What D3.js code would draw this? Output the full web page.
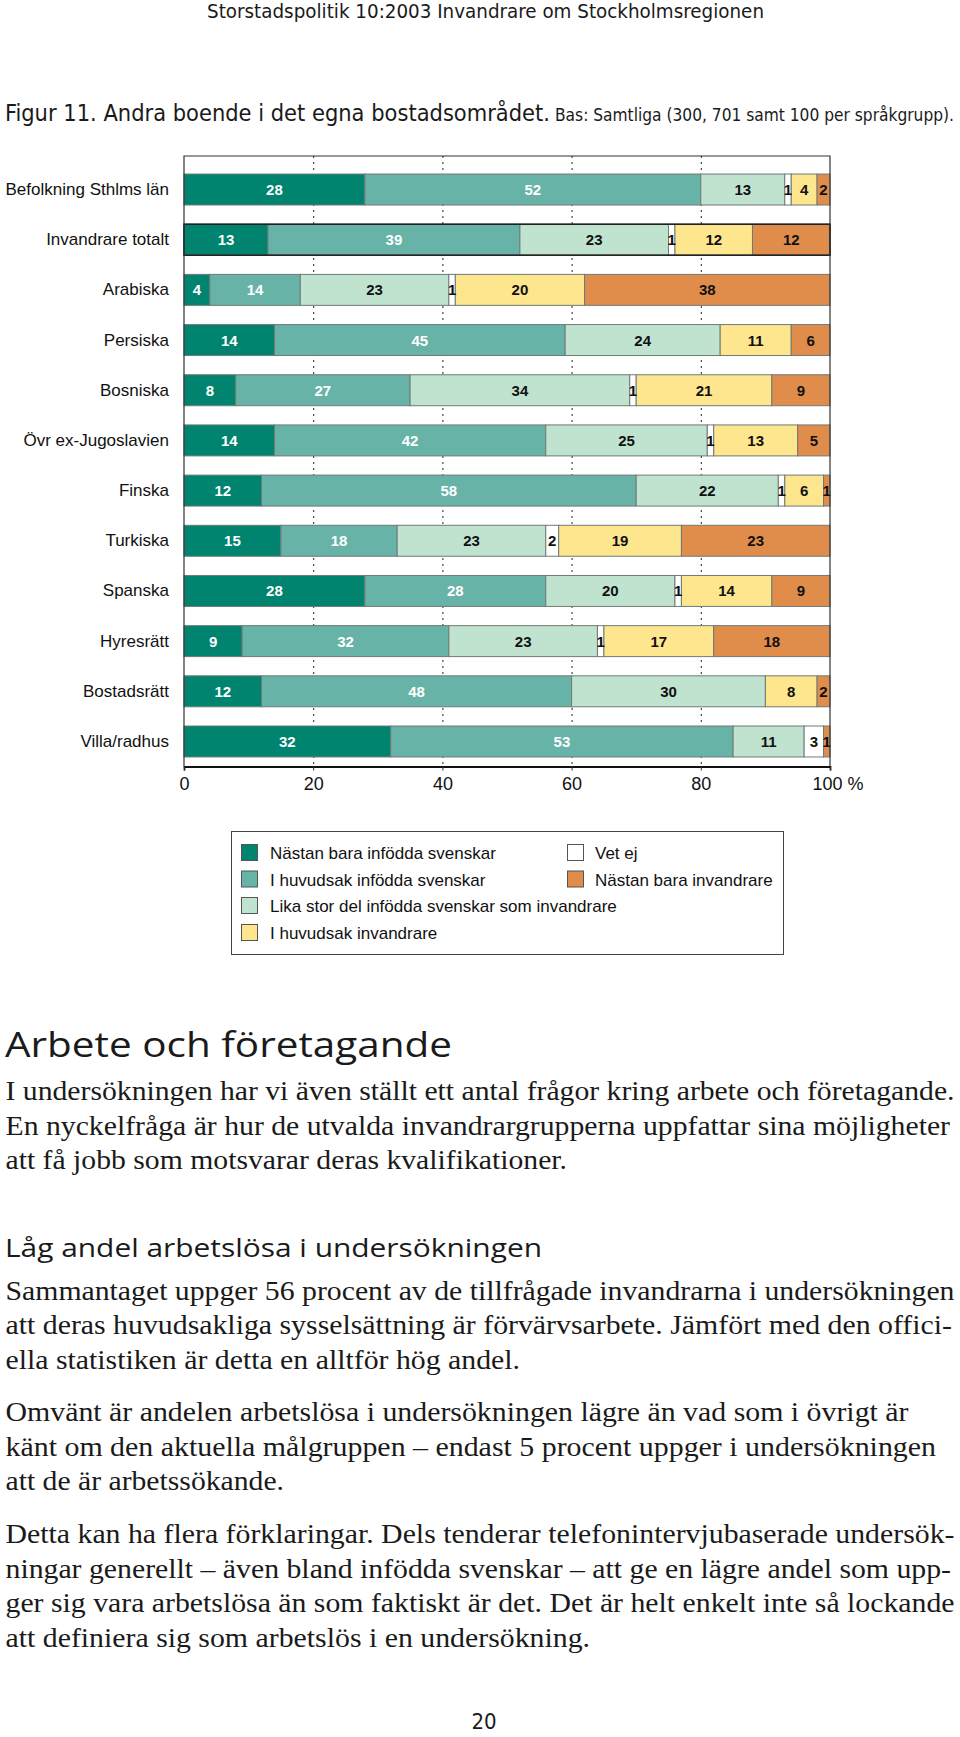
<!DOCTYPE html>
<html><head><meta charset="utf-8">
<script src="https://cdn.jsdelivr.net/npm/d3@7"></script>
<style>
html,body{margin:0;padding:0;background:#fff;}
svg{display:block;}
</style></head>
<body>
<svg id="page" width="960" height="1737"></svg>
<script>
// ---------- DATA ----------
const categories = ["Befolkning Sthlms län","Invandrare totalt","Arabiska","Persiska","Bosniska","Övr ex-Jugoslavien","Finska","Turkiska","Spanska","Hyresrätt","Bostadsrätt","Villa/radhus"];
const seriesNames = ["Nästan bara infödda svenskar","I huvudsak infödda svenskar","Lika stor del infödda svenskar som invandrare","Vet ej","I huvudsak invandrare","Nästan bara invandrare"];
const nastanSvenskar     = [28,13, 4,14, 8,14,12,15,28, 9,12,32];
const huvudsakSvenskar   = [52,39,14,45,27,42,58,18,28,32,48,53];
const likaStor           = [13,23,23,24,34,25,22,23,20,23,30,11];
const vetEj              = [ 1, 1, 1, 0, 1, 1, 1, 2, 1, 1, 0, 3];
const huvudsakInvandrare = [ 4,12,20,11,21,13, 6,19,14,17, 8, 0];
const nastanInvandrare   = [ 2,12,38, 6, 9, 5, 1,23, 9,18, 2, 1];
const xTicks = [0,20,40,60,80,100];
const xTickLabels = ["0","20","40","60","80","100 %"];
const gridValues = [20,40,60,80];
const legendLeft = ["Nästan bara infödda svenskar","I huvudsak infödda svenskar","Lika stor del infödda svenskar som invandrare","I huvudsak invandrare"];
const legendRight = ["Vet ej","Nästan bara invandrare"];

const headerText = "Storstadspolitik 10:2003 Invandrare om Stockholmsregionen";
const figTitle = "Figur 11. Andra boende i det egna bostadsområdet.";
const figBase = "Bas: Samtliga (300, 701 samt 100 per språkgrupp).";
const heading1 = "Arbete och företagande";
const heading2 = "Låg andel arbetslösa i undersökningen";
const para1 = ["I undersökningen har vi även ställt ett antal frågor kring arbete och företagande.",
 "En nyckelfråga är hur de utvalda invandrargrupperna uppfattar sina möjligheter",
 "att få jobb som motsvarar deras kvalifikationer."];
const para2 = ["Sammantaget uppger 56 procent av de tillfrågade invandrarna i undersökningen",
 "att deras huvudsakliga sysselsättning är förvärvsarbete. Jämfört med den offici-",
 "ella statistiken är detta en alltför hög andel."];
const para3 = ["Omvänt är andelen arbetslösa i undersökningen lägre än vad som i övrigt är",
 "känt om den aktuella målgruppen – endast 5 procent uppger i undersökningen",
 "att de är arbetssökande."];
const para4 = ["Detta kan ha flera förklaringar. Dels tenderar telefonintervjubaserade undersök-",
 "ningar generellt – även bland infödda svenskar – att ge en lägre andel som upp-",
 "ger sig vara arbetslösa än som faktiskt är det. Det är helt enkelt inte så lockande",
 "att definiera sig som arbetslös i en undersökning."];
const pageNumber = "20";

// ---------- STYLE ----------
const colors = ["#00836f","#67b3a8","#c0e3d0","#ffffff","#fde68e","#e08d4b"];
const labelColors = ["#ffffff","#ffffff","#111","#111","#111","#111"];
const sans = "'Liberation Sans', Arial, Helvetica, sans-serif";
const narrow = "'Liberation Sans Narrow','DejaVu Sans Condensed','Open Sans', sans-serif";
const human = "'Open Sans','Noto Sans', sans-serif";
const serif = "'Liberation Serif','Times New Roman', Times, serif";

const svg = d3.select("#page");
svg.append("rect").attr("width",960).attr("height",1737).attr("fill","#fff");

// ---------- table ----------
const seriesArrays = [nastanSvenskar,huvudsakSvenskar,likaStor,vetEj,huvudsakInvandrare,nastanInvandrare];
const table = categories.map((c,i)=>{
  const o = {cat:c};
  seriesNames.forEach((s,j)=>{o[s]=seriesArrays[j][i];});
  return o;
});
const stacked = d3.stack().keys(seriesNames)(table);

// ---------- scales ----------
const x = d3.scaleLinear().domain([0,100]).range([184,830]);
const y = d3.scaleBand().domain(categories).range([165,766]).paddingInner(0.383).paddingOuter(0.18);
const frameTop = 156, frameBottom = 766.5;

// gridlines
svg.append("g").selectAll("line").data(gridValues).join("line")
  .attr("x1",d=>x(d)+0.5).attr("x2",d=>x(d)+0.5)
  .attr("y1",frameTop).attr("y2",frameBottom)
  .attr("stroke","#222").attr("stroke-width",1).attr("stroke-dasharray","2,4");

// bars
const gBars = svg.append("g");
stacked.forEach((layer,j)=>{
  gBars.append("g").selectAll("rect").data(layer.filter(d=>d[1]-d[0]>0)).join("rect")
    .attr("x",d=>x(d[0]))
    .attr("y",d=>y(d.data.cat))
    .attr("width",d=>x(d[1])-x(d[0]))
    .attr("height",y.bandwidth())
    .attr("fill",colors[j])
    .attr("stroke","#6f7a76").attr("stroke-width",1);
});
// outline for Invandrare totalt
svg.append("rect")
  .attr("x",x(0)).attr("y",y("Invandrare totalt"))
  .attr("width",x(100)-x(0)).attr("height",y.bandwidth())
  .attr("fill","none").attr("stroke","#222").attr("stroke-width",1.6);

// value labels
stacked.forEach((layer,j)=>{
  gBars.append("g").selectAll("text").data(layer.filter(d=>d[1]-d[0]>0)).join("text")
    .attr("x",d=>x((d[0]+d[1])/2))
    .attr("y",d=>y(d.data.cat)+y.bandwidth()/2+5.5)
    .attr("text-anchor","middle")
    .attr("font-family",sans).attr("font-weight","bold").attr("font-size",15)
    .attr("fill",labelColors[j])
    .text(d=>d[1]-d[0]);
});

// frame
svg.append("path")
  .attr("d",`M${x(0)},${frameBottom} V${frameTop} H${x(100)} V${frameBottom}`)
  .attr("fill","none").attr("stroke","#333").attr("stroke-width",1.2);

// x axis
const xAxis = d3.axisBottom(x).tickValues(xTicks).tickSize(4).tickFormat((d,i)=>xTickLabels[i]);
const gx = svg.append("g").attr("transform",`translate(0,${frameBottom})`).call(xAxis);
gx.select(".domain").attr("stroke","#111").attr("stroke-width",1.8);
gx.selectAll(".tick line").attr("stroke","#333");
gx.selectAll(".tick text").attr("font-family",sans).attr("font-size",18).attr("fill","#111").attr("dy","0.9em");
gx.selectAll(".tick text").filter((d)=>d===100).attr("text-anchor","start").attr("dx",-18);

// y labels
const yAxis = d3.axisLeft(y).tickSize(0).tickPadding(0);
const gy = svg.append("g").attr("transform","translate(169,0)").call(yAxis);
gy.select(".domain").remove();
gy.selectAll(".tick text").attr("font-family",sans).attr("font-size",17).attr("fill","#111").attr("dy","0.32em");

// ---------- legend ----------
const lg = svg.append("g");
lg.append("rect").attr("x",231.5).attr("y",831.5).attr("width",552).attr("height",123)
  .attr("fill","#fff").attr("stroke","#444").attr("stroke-width",1);
const rowY = [853,879.5,906,933];
const legendItems = legendLeft.map((n,i)=>({name:n,cx:241,tx:270,cy:rowY[i]}))
  .concat(legendRight.map((n,i)=>({name:n,cx:567,tx:595,cy:rowY[i]})));
lg.selectAll("rect.sw").data(legendItems).join("rect").attr("class","sw")
  .attr("x",d=>d.cx+0.5).attr("y",d=>d.cy-8.5).attr("width",16).attr("height",16)
  .attr("fill",d=>colors[seriesNames.indexOf(d.name)]).attr("stroke","#555").attr("stroke-width",1);
lg.selectAll("text").data(legendItems).join("text")
  .attr("x",d=>d.tx).attr("y",d=>d.cy+6)
  .attr("font-family",sans).attr("font-size",17).attr("fill","#111")
  .text(d=>d.name);

// ---------- page texts ----------
function txt(s,x0,yb,size,family,len,extra){
  const t = svg.append("text").attr("x",x0).attr("y",yb).attr("font-size",size)
    .attr("font-family",family).attr("fill","#1a1a1a").text(s);
  if(len){t.attr("textLength",len).attr("lengthAdjust","spacingAndGlyphs");}
  if(extra) extra(t);
  return t;
}
txt(headerText,207,18,19,narrow,557);
txt(figTitle,5,121,23,narrow,545);
txt(figBase,555,121,17,narrow,399);
txt(heading1,5,1057,35,human,447);
para1.forEach((l,i)=>txt(l,5.5,1100+i*34.5,27,serif,[949,944.5,561.5][i]));
txt(heading2,5,1257,25,human,537);
para2.forEach((l,i)=>txt(l,5.5,1300+i*34.3,27,serif,[949,946.5,514.5][i]));
para3.forEach((l,i)=>txt(l,5.5,1421+i*34.5,27,serif,[903,930.5,278.5][i]));
para4.forEach((l,i)=>txt(l,5.5,1543+i*34.5,27,serif,[949,945.5,949,584.5][i]));
txt(pageNumber,484,1729,22,narrow,null,t=>t.attr("text-anchor","middle"));
</script>
</body></html>
